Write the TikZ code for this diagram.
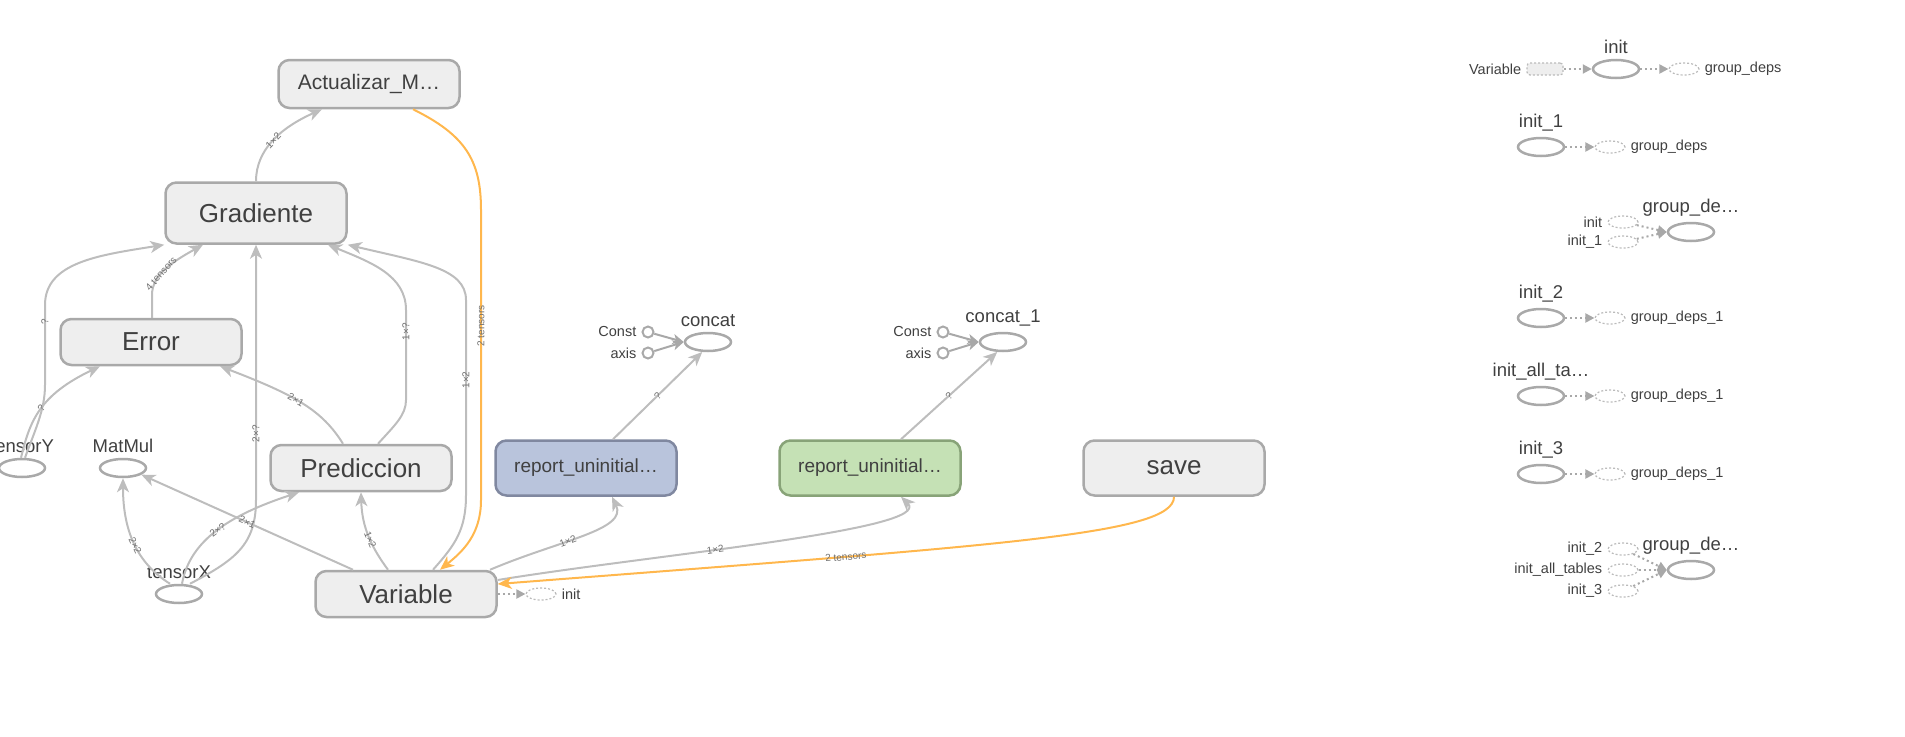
\documentclass[tikz,border=0pt]{standalone}
\usepackage{fontspec}
\setmainfont{Liberation Sans}
\usetikzlibrary{positioning}
\usetikzlibrary{shapes.geometric, arrows.meta}

\definecolor{grpfill}{HTML}{EEEEEE}
\definecolor{grpline}{HTML}{A9A9A9}
\definecolor{edgecol}{HTML}{BDBDBD}
\definecolor{orangeedge}{HTML}{FFB74D}
\definecolor{txt}{HTML}{404040}
\definecolor{lbltxt}{HTML}{707070}
\definecolor{bluefill}{HTML}{B9C4DC}
\definecolor{blueline}{HTML}{8088A0}
\definecolor{greenfill}{HTML}{C5E1B5}
\definecolor{greenline}{HTML}{88A378}
\definecolor{dotcol}{HTML}{BBBBBB}
\definecolor{ctrlcol}{HTML}{A8A8A8}

\newcommand{\tbfont}[1]{\fontsize{#1}{#1}\selectfont}

\begin{document}
\begin{tikzpicture}[x=1pt, y=-1pt, label distance=3pt,
    grpnode/.style={draw=grpline, fill=grpfill, line width=2.5pt, rounded corners=11pt,
      minimum width=181pt, minimum height=46pt, text=txt, font=\tbfont{26}},
    opnode/.style={ellipse, draw=grpline, line width=2.5pt, minimum width=46pt,
      minimum height=18pt, inner sep=0pt},
    cstnode/.style={circle, draw=grpline, line width=2pt, minimum size=11pt, inner sep=0pt},
    ghostop/.style={ellipse, draw=dotcol, line width=1.2pt, dash pattern=on 2pt off 2pt,
      minimum width=30pt, minimum height=12pt, inner sep=0pt},
    ghostbox/.style={rectangle, rounded corners=3pt, draw=dotcol, fill=grpfill, line width=1.2pt,
      dash pattern=on 2pt off 2pt, minimum width=36pt, minimum height=12pt, inner sep=0pt},
    optitle/.style={text=txt, font=\tbfont{18.5}, inner sep=2pt},
    sidelbl/.style={text=txt, font=\tbfont{14.5}, inner sep=2pt},
    tbedge/.style={draw=edgecol, line width=2pt, -{Stealth[length=14pt, width=12pt, inset=4pt]}},
    refedge/.style={tbedge, draw=orangeedge},
    ctrledge/.style={draw=ctrlcol, line width=2pt, dash pattern=on 2pt off 3pt, -{Triangle[length=9pt, width=9pt]}},
    cstedge/.style={draw=ctrlcol, line width=2pt, -{Stealth[length=11pt, width=10pt, inset=3pt]}},
    edgelbl/.style={font=\tbfont{10}, text=lbltxt, inner sep=0pt}]
    \useasboundingbox (0,0) rectangle (1905,736);

    % groups
    \node[grpnode, font=\tbfont{21}, minimum height=48pt] (actualizar) at (369,84) {Actualizar\_M…};
    \node[grpnode, minimum height=61pt] (gradiente) at (256,213) {Gradiente};
    \node[grpnode] (error) at (151,342) {Error};
    \node[grpnode] (prediccion) at (361,468) {Prediccion};
    \node[grpnode] (variable) at (406,594) {Variable};
    \node[grpnode, fill=bluefill, draw=blueline, minimum height=55pt, font=\tbfont{19}] (report) at (586,468) {report\_uninitial…};
    \node[grpnode, fill=greenfill, draw=greenline, minimum height=55pt, font=\tbfont{19}] (reportb) at (870,468) {report\_uninitial…};
    \node[grpnode, minimum height=55pt] (save) at (1174,468) {save};

    % ops
    \node[opnode, label={[optitle]above:tensorY}] (tensory) at (22,468) {};
    \node[opnode, label={[optitle]above:MatMul}] (matmul) at (123,468) {};
    \node[opnode, label={[optitle]above:tensorX}] (tensorx) at (179,594) {};
    \node[ghostop, label={[sidelbl]right:init}] (vinit) at (541,594) {};

    \node[opnode, label={[optitle]above:concat}] (concat) at (708,342) {};
    \node[cstnode, label={[sidelbl]left:Const}] (const) at (648,332) {};
    \node[cstnode, label={[sidelbl]left:axis}] (axis) at (648,353) {};
    \node[opnode, label={[optitle]above:concat\_1}] (concatb) at (1003,342) {};
    \node[cstnode, label={[sidelbl]left:Const}] (constb) at (943,332) {};
    \node[cstnode, label={[sidelbl]left:axis}] (axisb) at (943,353) {};

    % edges into Gradiente / Actualizar
    \draw[tbedge] (gradiente.north) .. controls (256,150) and (280,128) .. node[edgelbl, sloped, pos=.5] {1×2} ([xshift=-47pt]actualizar.south);
    \draw[refedge] ([xshift=44pt]actualizar.south) .. controls (465,135) and (481,160) .. (481,210)
        -- node[edgelbl, rotate=90, pos=.4] {2 tensors} (481,500)
        .. controls (481,535) and (462,552) .. ([xshift=34pt]variable.north);
    \draw[tbedge] ([xshift=27pt]variable.north) .. controls (455,545) and (466,530) .. (466,495)
        -- node[edgelbl, sloped, pos=.59] {1×2} (466,300)
        .. controls (466,268) and (420,262) .. (gradiente.south east);
    \draw[tbedge] ([xshift=17pt]prediccion.north) .. controls (395,425) and (406,415) .. (406,400)
        -- node[edgelbl, sloped, pos=.76] {1×?} (406,310)
        .. controls (406,275) and (370,262) .. ([xshift=72pt]gradiente.south);
    \draw[tbedge] ([xshift=11pt]tensorx.north) .. controls (235,560) and (256,545) .. (256,500)
        -- node[edgelbl, sloped, pos=.26] {2×?} (gradiente.south);
    \draw[tbedge] ([xshift=1pt]error.north) -- (152,295) .. controls (152,275) and (172,262) .. node[edgelbl, sloped, pos=.4] {4 tensors} ([xshift=-53pt]gradiente.south);
    \draw[tbedge] ([xshift=3pt]tensory.north) .. controls (35,430) and (45,410) .. (45,385)
        -- node[edgelbl, sloped, pos=.79] {?} (45,305)
        .. controls (45,262) and (100,255) .. (gradiente.south west);

    % edges into Error, MatMul, Prediccion
    \draw[tbedge] ([xshift=-1pt]tensory.north) .. controls (30,420) and (40,395) .. node[edgelbl, sloped, pos=.5] {?} ([xshift=-51pt]error.south);
    \draw[tbedge] ([xshift=-18pt]prediccion.north) .. controls (322,410) and (295,395) .. node[edgelbl, sloped, pos=.55] {2×1} ([xshift=69pt]error.south);
    \draw[tbedge] ([xshift=-9pt]tensorx.north) .. controls (140,565) and (123,535) .. node[edgelbl, sloped, pos=.5] {2×2} (matmul.south);
    \draw[tbedge] ([xshift=3pt]tensorx.north) .. controls (190,540) and (230,515) .. node[edgelbl, sloped, pos=.5] {2×?} ([xshift=-62pt]prediccion.south);
    \draw[tbedge] ([xshift=-53pt]variable.north) -- node[edgelbl, sloped, pos=.5] {2×1} (matmul.-20);
    \draw[tbedge] ([xshift=-18pt]variable.north) .. controls (372,548) and (362,528) .. node[edgelbl, sloped, pos=.45] {1×2} (prediccion.south);

    % edges to the right
    \draw[tbedge] ([xshift=84pt]variable.north) .. controls (560,540) and (628,530) .. node[edgelbl, sloped, pos=.4] {1×2} ([xshift=26pt]report.south);
    \draw[tbedge] ([yshift=14pt]variable.east) .. controls (650,555) and (935,530) .. node[edgelbl, sloped, pos=.4] {1×2} ([xshift=31pt]reportb.south);
    \draw[refedge] (save.south) .. controls (1174,535) and (1000,545) .. node[edgelbl, sloped, pos=.72] {2 tensors} ([yshift=10pt]variable.east);
    \draw[ctrledge] (variable.east) -- (vinit);

    \draw[tbedge] ([xshift=27pt]report.north) -- node[edgelbl, sloped, pos=.5] {?} (concat.-120);
    \draw[tbedge] ([xshift=31pt]reportb.north) -- node[edgelbl, sloped, pos=.5] {?} (concatb.-120);
    \draw[cstedge] (const) -- (concat.west);
    \draw[cstedge] (axis) -- (concat.west);
    \draw[cstedge] (constb) -- (concatb.west);
    \draw[cstedge] (axisb) -- (concatb.west);

    % init nodes
    \node[opnode, label={[optitle]above:init}] (init) at (1616,69) {};
    \node[ghostbox, label={[sidelbl]left:Variable}] (initvar) at (1545,69) {};
    \node[ghostop, label={[sidelbl]right:group\_deps}] (initdeps) at (1684,69) {};
    \draw[ctrledge] (initvar) -- (init);
    \draw[ctrledge] (init) -- (initdeps);

    \node[opnode, label={[optitle]above:init\_1}] (inita) at (1541,147) {};
    \node[ghostop, label={[sidelbl]right:group\_deps}] (initadeps) at (1610,147) {};
    \draw[ctrledge] (inita) -- (initadeps);

    \node[opnode, label={[optitle]above:group\_de…}] (gdeps) at (1691,232) {};
    \node[ghostop, label={[sidelbl]left:init}] (gdinit) at (1623,222) {};
    \node[ghostop, label={[sidelbl]left:init\_1}] (gdinita) at (1623,242) {};
    \draw[ctrledge] (gdinit) -- (gdeps.west);
    \draw[ctrledge] (gdinita) -- (gdeps.west);

    \node[opnode, label={[optitle]above:init\_2}] (initb) at (1541,318) {};
    \node[ghostop, label={[sidelbl]right:group\_deps\_1}] (initbdeps) at (1610,318) {};
    \draw[ctrledge] (initb) -- (initbdeps);

    \node[opnode, label={[optitle]above:init\_all\_ta…}] (initall) at (1541,396) {};
    \node[ghostop, label={[sidelbl]right:group\_deps\_1}] (initalldeps) at (1610,396) {};
    \draw[ctrledge] (initall) -- (initalldeps);

    \node[opnode, label={[optitle]above:init\_3}] (initc) at (1541,474) {};
    \node[ghostop, label={[sidelbl]right:group\_deps\_1}] (initcdeps) at (1610,474) {};
    \draw[ctrledge] (initc) -- (initcdeps);

    \node[opnode, label={[optitle]above:group\_de…}] (gdepsb) at (1691,570) {};
    \node[ghostop, label={[sidelbl]left:init\_2}] (gdinitb) at (1623,549) {};
    \node[ghostop, label={[sidelbl]left:init\_all\_tables}] (gdinitall) at (1623,570) {};
    \node[ghostop, label={[sidelbl]left:init\_3}] (gdinitc) at (1623,591) {};
    \draw[ctrledge] (gdinitb) -- (gdepsb.west);
    \draw[ctrledge] (gdinitall) -- (gdepsb.west);
    \draw[ctrledge] (gdinitc) -- (gdepsb.west);
\end{tikzpicture}
\end{document}
